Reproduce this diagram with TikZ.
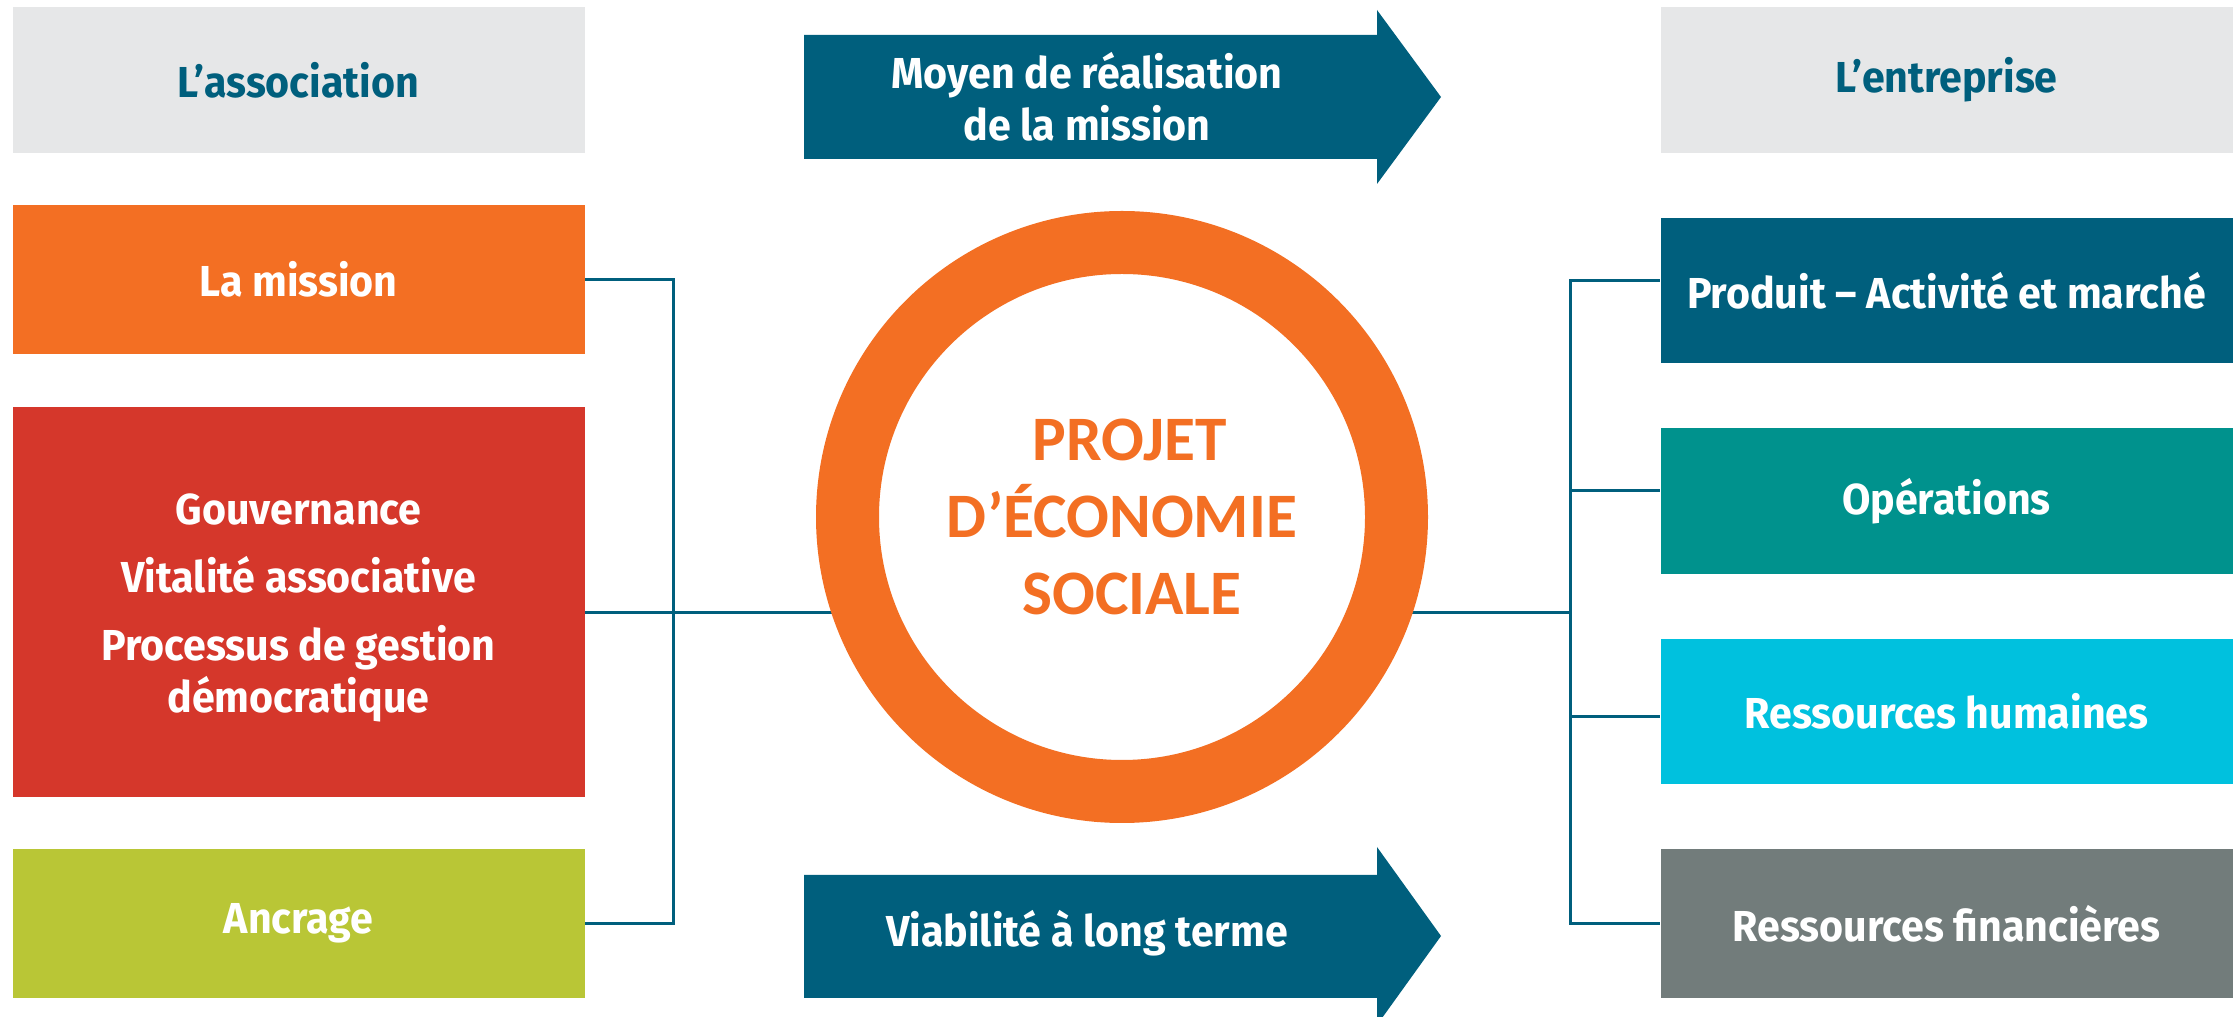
\documentclass[tikz,border=0pt]{standalone}
\usepackage{fontspec}
\usetikzlibrary{backgrounds}
\newfontfamily\boxfont{Fira Sans}[FakeStretch=0.95]
\newfontfamily\titlefont{Carlito}
\newlength{\du}
\setlength{\du}{0.3\unitlength}
\definecolor{assocgray}{rgb}{0.902, 0.906, 0.910}
\definecolor{missionorange}{rgb}{0.953, 0.435, 0.137}
\definecolor{gouvred}{rgb}{0.835, 0.216, 0.169}
\definecolor{ancragegreen}{rgb}{0.725, 0.776, 0.212}
\definecolor{diablue}{rgb}{0.000, 0.373, 0.490}
\definecolor{opteal}{rgb}{0.000, 0.573, 0.553}
\definecolor{rhcyan}{rgb}{0.000, 0.757, 0.871}
\definecolor{rfgray}{rgb}{0.447, 0.486, 0.482}
\tikzset{
  diabox/.style={rectangle, inner sep=0pt, minimum width=572\du, text=white,
    align=center, font=\boxfont\bfseries\fontsize{13}{15.6}\selectfont},
  diahead/.style={diabox, fill=assocgray, text=diablue},
  diaarrow/.style={fill=diablue},
  dialink/.style={draw=diablue, line width=3\du},
}

\begin{document}
\begin{tikzpicture}
\pgftransformxscale{1.000000}
\pgftransformyscale{-1.000000}
\pgfsetmiterjoin
\pgfsetbuttcap
\useasboundingbox (0\du,0\du) rectangle (2239\du,1017\du);
% left column
\node[diahead, minimum height=146\du] (assoc) at (298.5\du,80\du){L’association};
\node[diabox, fill=missionorange, minimum height=149\du] (mission) at (298.5\du,279.5\du){La mission};
\node[diabox, fill=gouvred, minimum height=390\du] (gouv) at (298.5\du,602\du){\rule{0pt}{13pt}Gouvernance\\[4.8pt]Vitalité associative\\[4.8pt]Processus de gestion\\démocratique};
\node[diabox, fill=ancragegreen, minimum height=149\du] (ancrage) at (298.5\du,923.5\du){Ancrage};
% right column
\node[diahead, minimum height=146\du] (entreprise) at (1946.5\du,80\du){L’entreprise};
\node[diabox, fill=diablue, minimum height=145\du] (produit) at (1946.5\du,290.5\du){Produit – Activité et marché};
\node[diabox, fill=opteal, minimum height=146\du] (operations) at (1946.5\du,501\du){Opérations};
\node[diabox, fill=rhcyan, minimum height=145\du] (humaines) at (1946.5\du,711.5\du){Ressources humaines};
\node[diabox, fill=rfgray, minimum height=149\du] (financieres) at (1946.5\du,923.5\du){Ressources financières};
% arrows
\fill[diaarrow] (804\du,35\du)--(1377\du,35\du)--(1377\du,10\du)--(1441\du,97\du)--(1377\du,184\du)--(1377\du,159\du)--(804\du,159\du)--cycle;
\node[diabox, minimum width=0pt] (moyen) at (1087\du,97\du){Moyen de réalisation\\de la mission};
\fill[diaarrow] (804\du,875\du)--(1377\du,875\du)--(1377\du,847\du)--(1441\du,936\du)--(1377\du,1025\du)--(1377\du,998\du)--(804\du,998\du)--cycle;
\node[diabox, minimum width=0pt] (viabilite) at (1087\du,933\du){Viabilité à long terme};
% setfont centre
\node[circle, draw=missionorange, fill=white, line width=63\du, minimum size=549\du, inner sep=0pt,
  text=missionorange, align=center, font=\titlefont\bfseries\fontsize{19}{23.1}\selectfont]
  (projet) at (1122\du,517\du){\hspace*{16\du}PROJET\\D’ÉCONOMIE\\\hspace*{20\du}SOCIALE};
% links
\begin{scope}[on background layer]
\coordinate (lhub) at (673\du,613\du);
\coordinate (rhub) at (1570\du,613\du);
\draw[dialink] (mission.east) -| (lhub) |- (ancrage.east);
\draw[dialink] (gouv.east |- lhub) -- (lhub) -- (lhub -| projet.center);
\draw[dialink] (produit.178.3) -| (rhub) |- (financieres.west);
\draw[dialink] (operations.178.6) -- (operations.178.6 -| rhub);
\draw[dialink] (humaines.181.1) -- (humaines.181.1 -| rhub);
\draw[dialink] (rhub) -- (rhub -| projet.center);
\end{scope}
\end{tikzpicture}
\end{document}
